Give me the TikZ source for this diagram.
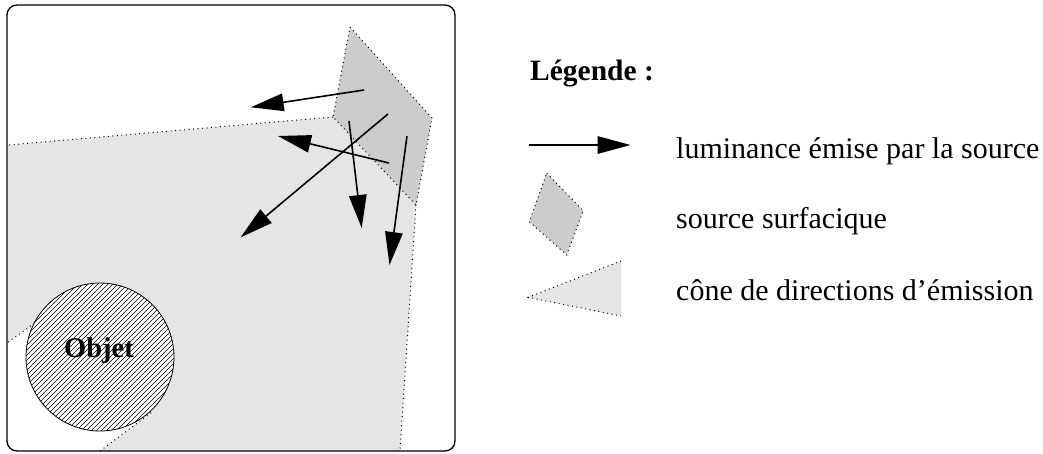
\documentclass[tikz,border=0pt]{standalone}
\usepackage{fontspec}
\setmainfont{Liberation Serif}
\usetikzlibrary{arrows.meta,calc}
\definecolor{conegray}{gray}{0.898}
\definecolor{srcgray}{gray}{0.80}
\tikzset{
  dotline/.style={line width=1pt, dash pattern=on 1pt off 3.5pt},
  ray/.style={line width=1.6pt, -{Triangle[length=33pt,width=17.5pt]}},
  legtext/.style={anchor=base west, inner sep=0pt, font=\fontsize{30}{36}\selectfont},
}
\begin{document}
\begin{tikzpicture}[x=1pt,y=-1pt]
\useasboundingbox (0,0) rectangle (1043,453);
% cone of emission directions
\coordinate (sT) at (350,27);
\coordinate (sR) at (432,118);
\coordinate (sB) at (416,205);
\coordinate (sL) at (333,117);
\coordinate (cL1) at (8,145);
\coordinate (cL2) at (8,342);
\coordinate (tA) at (41,319);
\coordinate (oc) at (100,357);
\coordinate (tB) at (152,412);
\coordinate (cB1) at (100,451);
\coordinate (cB2) at (400,451);
\fill[conegray] (sL) -- (cL1) -- (cL2) -- (tA) -- (oc) -- (tB) -- (cB1) -- (cB2) -- (sB) -- cycle;
\draw[dotline] (sL) -- (cL1);
\draw[dotline] (sB) -- (cB2);
\draw[dotline] (cL2) -- (tA);
\draw[dotline] (cB1) -- (tB);
% source
\draw[dotline, fill=srcgray] (sT) -- (sR) -- (sB) -- (sL) -- cycle;
% object
\fill[white] (oc) circle (74);
\begin{scope}
  \clip (oc) circle (74);
  \foreach \k in {-160,-155,...,160}
    \draw[line width=0.6pt] ($(oc)+(\k-90,90)$) -- ($(oc)+(\k+90,-90)$);
\end{scope}
\node[draw, circle, minimum size=148pt, inner sep=0pt, line width=0.8pt] (obj) at (oc) {};
\node[anchor=base, inner sep=0pt, font=\fontsize{28.5}{34}\selectfont\bfseries] (objtxt) at (99,357) {Objet};
% rays
\coordinate (r1s) at (364,90);   \coordinate (r1e) at (250.7,107.3);
\coordinate (r2s) at (388,114);  \coordinate (r2e) at (240.7,237.3);
\coordinate (r3s) at (389,163);  \coordinate (r3e) at (278,136);
\coordinate (r4s) at (349,121);  \coordinate (r4e) at (361.7,228);
\coordinate (r5s) at (407,136);  \coordinate (r5e) at (389.5,265);
\draw[ray] (r1s) -- (r1e);
\draw[ray] (r2s) -- (r2e);
\draw[ray] (r3s) -- (r3e);
\draw[ray] (r4s) -- (r4e);
\draw[ray] (r5s) -- (r5e);
% frame
\draw[line width=1.3pt, rounded corners=10pt] (7,5) rectangle (455,451);
% legend
\node[anchor=base west, inner sep=0pt, font=\fontsize{29.5}{34}\selectfont\bfseries] (legtitle) at (530,80) {Légende :};
\coordinate (la1) at (529,145);
\coordinate (la2) at (630.5,145);
\draw[ray] (la1) -- (la2);
\node[legtext] (t1) at (676,158) {luminance émise par la source};
\draw[dotline, fill=srcgray] (546.7,173.3) -- (583.3,210.7) -- (566.7,255) -- (529.3,221.7) -- cycle;
\node[legtext] (t2) at (676,228) {source surfacique};
\coordinate (lt1) at (528.3,297.3);
\coordinate (lt2) at (621,261);
\coordinate (lt3) at (621,316);
\fill[conegray] (lt1) -- (lt2) -- (lt3) -- cycle;
\draw[dotline] (lt2) -- (lt1) -- (lt3);
\node[legtext] (t3) at (676,300) {cône de directions d’émission};
\end{tikzpicture}
\end{document}
